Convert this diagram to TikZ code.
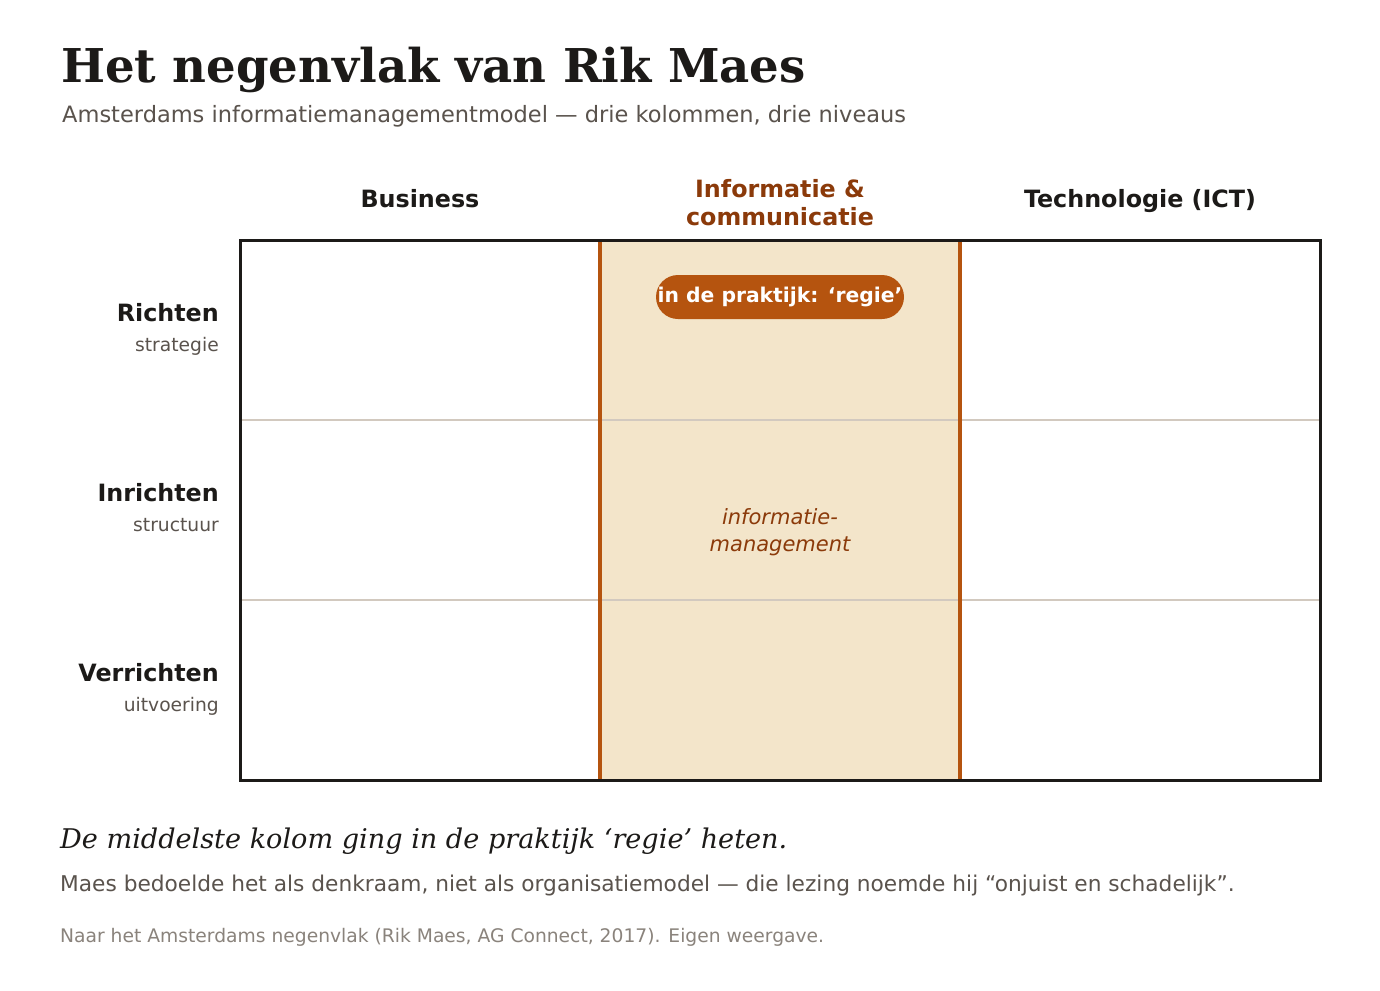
\documentclass[tikz,border=0pt]{standalone}
\usepackage{fontspec}
\setmainfont{DejaVu Serif}
\setsansfont{DejaVu Sans}
\usepackage{tikz}
\usetikzlibrary{positioning}

\definecolor{ink}{HTML}{1C1A18}
\definecolor{muted}{HTML}{5A534D}
\definecolor{faint}{HTML}{8A837C}
\definecolor{rust}{HTML}{B5540F}
\definecolor{rustdark}{HTML}{8B3A0A}
\definecolor{sand}{HTML}{F3E5CA}
\definecolor{rule}{HTML}{D2C9BF}

\tikzset{
	colhead/.style={anchor=base, font=\sffamily\bfseries\fontsize{23.8}{23.8}\selectfont, text=ink, inner sep=0pt},
	rowhead/.style={anchor=base east, font=\sffamily\bfseries\fontsize{23.8}{23.8}\selectfont, text=ink, inner sep=0pt},
	rowsub/.style={anchor=base east, font=\sffamily\fontsize{18.7}{18.7}\selectfont, text=muted, inner sep=0pt},
	midtext/.style={anchor=base, inner sep=0pt, text=rustdark, font=\sffamily\itshape\fontsize{21}{21}\selectfont},
}

\begin{document}
\begin{tikzpicture}[x=1pt, y=-1pt]
	\useasboundingbox[fill=white] (0,0) rectangle (1380,990);

	% grid corners
	\coordinate (a1) at (240,240);
	\coordinate (b1) at (600,240);
	\coordinate (c1) at (960,240);
	\coordinate (d1) at (1320,240);
	\coordinate (a2) at (240,780);
	\coordinate (b2) at (600,780);
	\coordinate (c2) at (960,780);
	\coordinate (d2) at (1320,780);
	\coordinate (r1w) at (240,420);
	\coordinate (r1e) at (1320,420);
	\coordinate (r2w) at (240,600);
	\coordinate (r2e) at (1320,600);

	% title
	\node[anchor=base west, inner sep=0pt, text=ink, font=\bfseries\fontsize{46.6}{46.6}\selectfont] (title) at (61,82) {Het negenvlak van Rik Maes};
	\node[anchor=base west, inner sep=0pt, text=muted, font=\sffamily\fontsize{22.5}{22.5}\selectfont] (sub) at (62,122) {Amsterdams informatiemanagementmodel — drie kolommen, drie niveaus};

	% middle column
	\fill[sand] (b1) rectangle (c2);
	\draw[rule, line width=2pt] (r1w) -- (r1e);
	\draw[rule, line width=2pt] (r2w) -- (r2e);
	\draw[rust, line width=4pt] (b1) -- (b2);
	\draw[rust, line width=4pt] (c1) -- (c2);
	\draw[ink, line width=3pt] (a1) -- (d1) -- (d2) -- (a2) -- cycle;

	% column heads
	\node[colhead] (k1) at (420,207) {Business};
	\node[colhead, text=rustdark] (k2) at (780,197) {Informatie \&};
	\node[colhead, text=rustdark] (k2b) at (780,225) {communicatie};
	\node[colhead] (k3) at (1140,207) {Technologie (ICT)};

	% row heads
	\node[rowhead] (n1) at (219,321) {Richten};
	\node[rowsub] (m1) at (219,351) {strategie};
	\node[rowhead] (n2) at (219,501) {Inrichten};
	\node[rowsub] (m2) at (219,531) {structuur};
	\node[rowhead] (n3) at (219,681) {Verrichten};
	\node[rowsub] (m3) at (219,711) {uitvoering};

	% label in the middle column
	\node[fill=rust, text=white, rounded corners=22pt, minimum width=248pt, minimum height=44pt, inner sep=0pt,
		font=\sffamily\bfseries\fontsize{20.3}{20.3}\selectfont] (pill) at (780,297) {in de praktijk: ‘regie’};
	\node[midtext] (im1) at (780,524) {informatie-};
	\node[midtext] (im2) at (780,551) {management};

	% notes
	\node[anchor=base west, inner sep=0pt, text=ink, font=\itshape\fontsize{27.1}{27.1}\selectfont] (note) at (60,848) {De middelste kolom ging in de praktijk ‘regie’ heten.};
	\node[anchor=base west, inner sep=0pt, text=muted, font=\sffamily\fontsize{21.7}{21.7}\selectfont] (body) at (60,891) {Maes bedoelde het als denkraam, niet als organisatiemodel — die lezing noemde hij “onjuist en schadelijk”.};
	\node[anchor=base west, inner sep=0pt, text=faint, font=\sffamily\fontsize{18.7}{18.7}\selectfont] (src) at (60,942) {Naar het Amsterdams negenvlak (Rik Maes, AG Connect, 2017). Eigen weergave.};
\end{tikzpicture}
\end{document}
